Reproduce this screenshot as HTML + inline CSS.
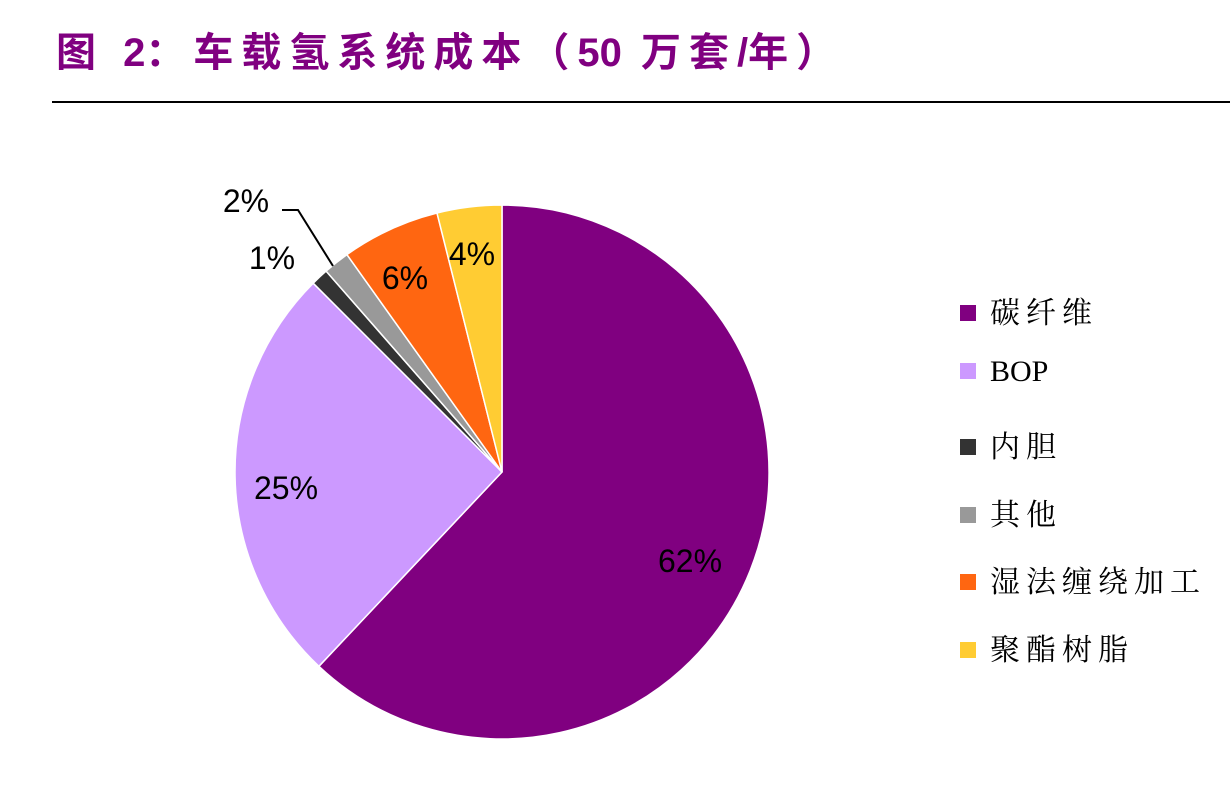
<!DOCTYPE html>
<html><head><meta charset="utf-8"><style>
body{margin:0;width:1230px;height:792px;background:#fff;overflow:hidden;position:relative;font-family:"Liberation Sans","Noto Sans CJK SC",sans-serif}
.t{position:absolute;left:56px;top:20px;font-size:40px;font-weight:bold;color:#800080;letter-spacing:8px;white-space:nowrap}
.t b{letter-spacing:0}
.lg{position:absolute;left:960px;font-family:"Liberation Serif","Noto Serif CJK SC",serif;font-size:30px;color:#000;letter-spacing:6px;white-space:nowrap}
.lg i{display:inline-block;width:16px;height:16px;margin-right:14px;vertical-align:middle;position:relative;top:-3px}
</style></head><body>
<div class="t">图 <b>2</b>：车载氢系统成本（<b>50</b> 万套<b>/</b>年）</div>
<div style="position:absolute;left:52px;top:101px;width:1178px;height:2px;background:#000"></div>
<svg width="1230" height="792" style="position:absolute;left:0;top:0">
<g stroke="#fff" stroke-width="1.5">
<path d="M502,472 L502,205 A267,267 0 1 1 318.9,666.3 Z" fill="#800080"/>
<path d="M502,472 L318.9,666.3 A267,267 0 0 1 313.2,283.2 Z" fill="#cc99ff"/>
<path d="M502,472 L313.2,283.2 A267,267 0 0 1 326.1,271.1 Z" fill="#333333"/>
<path d="M502,472 L326.1,271.1 A267,267 0 0 1 346.9,254.6 Z" fill="#999999"/>
<path d="M502,472 L346.9,254.6 A267,267 0 0 1 437,213 Z" fill="#ff6611"/>
<path d="M502,472 L437,213 A267,267 0 0 1 502,205 Z" fill="#ffcc33"/>
</g>
<polyline points="282,210 298,210 333,266" fill="none" stroke="#000" stroke-width="2"/>
<g font-family="Liberation Sans, sans-serif" font-size="32" fill="#000" text-anchor="middle">
<text x="690" y="572">62%</text>
<text x="286" y="499">25%</text>
<text x="405" y="289">6%</text>
<text x="472" y="265">4%</text>
<text x="272" y="269">1%</text>
<text x="246" y="212">2%</text>
</g>
</svg>
<div class="lg" style="top:288px"><i style="background:#800080"></i>碳纤维</div>
<div class="lg" style="top:355px;letter-spacing:0"><i style="background:#cc99ff"></i>BOP</div>
<div class="lg" style="top:422px"><i style="background:#333333"></i>内胆</div>
<div class="lg" style="top:490px"><i style="background:#999999"></i>其他</div>
<div class="lg" style="top:557px"><i style="background:#ff6611"></i>湿法缠绕加工</div>
<div class="lg" style="top:625px"><i style="background:#ffcc33"></i>聚酯树脂</div>
</body></html>
